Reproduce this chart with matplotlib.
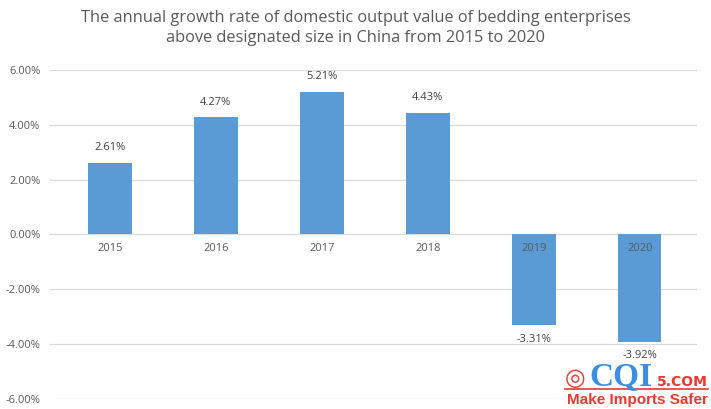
import matplotlib
matplotlib.use("Agg")
from matplotlib import pyplot as plt

years = ["2015", "2016", "2017", "2018", "2019", "2020"]
growth = [2.61, 4.27, 5.21, 4.43, -3.31, -3.92]
y_ticks = [-6, -4, -2, 0, 2, 4, 6]

TEXT = "#595959"
BAR = "#5B9BD5"
RED = "#E8392F"
plt.rcParams["font.family"] = ["Open Sans", "DejaVu Sans"]

fig = plt.figure(figsize=(7.11, 4.09), dpi=100)
ax = fig.add_axes([0.0703, 0.0244, 0.9097, 0.8046])

x = list(range(len(years)))
ax.bar(x, growth, width=0.41, color=BAR, zorder=2)

for xi, v, yr in zip(x, growth, years):
    if v >= 0:
        ax.annotate(f"{v:.2f}%", (xi, v), xytext=(0, 7), textcoords="offset points",
                    ha="center", va="bottom", fontsize=8, color="#404040")
    else:
        ax.annotate(f"{v:.2f}%", (xi, v), xytext=(0, -6), textcoords="offset points",
                    ha="center", va="top", fontsize=8, color="#404040")
    ax.annotate(yr, (xi, 0), xytext=(0, -6), textcoords="offset points",
                ha="center", va="top", fontsize=8, color=TEXT, zorder=3)

ax.set_xlim(-0.566, len(years) - 0.462)
ax.set_ylim(-6, 6)
ax.set_yticks(y_ticks)
ax.set_yticklabels([f"{t:.2f}%" for t in y_ticks], fontsize=8, color=TEXT)
ax.set_xticks([])
ax.tick_params(axis="y", length=0, pad=7)
ax.grid(axis="y", color="#D9D9D9", linewidth=0.9, zorder=0)
for s in ax.spines.values():
    s.set_visible(False)

fig.text(0.5, 0.975, "The annual growth rate of domestic output value of bedding enterprises\n"
         "above designated size in China from 2015 to 2020",
         ha="center", va="top", fontsize=11.8, color=TEXT, linespacing=1.35)

# logo (bottom right corner)
fig.text(565 / 711, 1 - 385 / 409, "\u25CE", fontsize=17, color=RED, ha="left",
         va="baseline", family=["DejaVu Sans"])
fig.text(589 / 711, 1 - 386 / 409, "CQI", fontsize=24, color="#3C8FE0", ha="left",
         va="baseline", fontweight="bold", family=["Liberation Serif", "DejaVu Serif"])
fig.text(708 / 711, 1 - 386 / 409, "5.COM", fontsize=10, color=RED, ha="right",
         va="baseline", fontweight="bold", family=["DejaVu Sans"])
fig.add_artist(plt.Line2D([565 / 711, 708 / 711], [1 - 388.5 / 409, 1 - 388.5 / 409],
                          color=RED, linewidth=1.2))
fig.text(708 / 711, 1 - 404 / 409, "Make Imports Safer", fontsize=11, color=RED,
         ha="right", va="baseline", fontweight="bold",
         family=["Liberation Sans", "DejaVu Sans"])

fig.savefig("out.png", dpi=100)
